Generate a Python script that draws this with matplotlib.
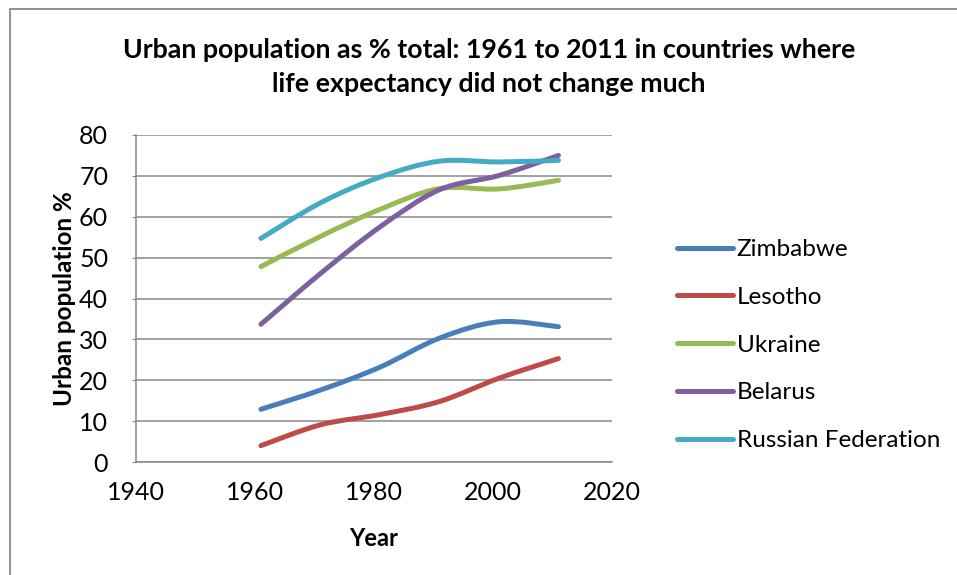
import numpy as np
import matplotlib.pyplot as plt
from matplotlib.path import Path
from matplotlib.patches import PathPatch, Rectangle
from matplotlib.lines import Line2D

plt.rcParams['font.family'] = ['Lato', 'DejaVu Sans']

years = [1961, 1971, 1981, 1991, 2001, 2011]
zimbabwe = [12.9, 17.6, 23.2, 30.3, 34.3, 33.1]
lesotho = [4.0, 9.1, 11.6, 14.8, 20.5, 25.3]
ukraine = [47.8, 55.2, 61.8, 66.9, 66.8, 68.9]
belarus = [33.7, 46.1, 57.5, 66.6, 70.1, 75.0]
russia = [54.7, 63.4, 69.7, 73.6, 73.4, 73.8]

names = ["Zimbabwe", "Lesotho", "Ukraine", "Belarus", "Russian Federation"]
series = [zimbabwe, lesotho, ukraine, belarus, russia]
colors = ["#4A7EBB", "#BE4B48", "#98B954", "#7D60A0", "#46AAC5"]


def smooth_path(xs, ys):
    # cubic bezier through each point, control points from the neighbours
    pts = np.column_stack([xs, ys]).astype(float)
    padded = np.vstack([pts[0], pts, pts[-1]])
    verts = [pts[0]]
    codes = [Path.MOVETO]
    for i in range(len(pts) - 1):
        p0, p1, p2, p3 = padded[i], padded[i + 1], padded[i + 2], padded[i + 3]
        verts += [p1 + (p2 - p0) / 6, p2 - (p3 - p1) / 6, p2]
        codes += [Path.CURVE4] * 3
    return Path(verts, codes)


fig = plt.figure(figsize=(9.57, 5.75), dpi=100)
fig.patches.append(Rectangle((10 / 957, -0.1), 1.2, 1 - 9 / 575 + 0.1,
                             transform=fig.transFigure, fill=False,
                             edgecolor="#878787", linewidth=1.3))

ax = fig.add_axes([136 / 957, 1 - 462 / 575, (612 - 136) / 957, (462 - 135) / 575])

for vals, color in zip(series, colors):
    ax.add_patch(PathPatch(smooth_path(years, vals), facecolor="none",
                           edgecolor=color, linewidth=3.6,
                           capstyle="round", joinstyle="round", zorder=3))

ax.set_xlim(1940, 2020)
ax.set_ylim(0, 80)
ax.set_xticks(range(1940, 2021, 20))
ax.set_yticks(range(0, 81, 10))
ax.yaxis.grid(True, color="#878787", linewidth=1.1)
ax.set_axisbelow(True)
for side in ["top", "right"]:
    ax.spines[side].set_visible(False)
for side in ["left", "bottom"]:
    ax.spines[side].set_color("#878787")
    ax.spines[side].set_linewidth(1.1)
ax.tick_params(axis="y", length=3, color="#878787", labelsize=18, pad=17)
ax.tick_params(axis="x", length=0, labelsize=18, pad=14)

ax.set_xlabel("Year", fontsize=17, fontweight="bold", labelpad=16)
ax.set_ylabel("Urban population %", fontsize=17.5, fontweight="bold", labelpad=2)

fig.text(489 / 957, 1 - 50 / 575, "Urban population as % total: 1961 to 2011 in countries where",
         ha="center", va="center", fontsize=19.3, fontweight="bold")
fig.text(489 / 957, 1 - 84 / 575, "life expectancy did not change much",
         ha="center", va="center", fontsize=19.3, fontweight="bold")

handles = [Line2D([], [], color=c, linewidth=3.6, solid_capstyle="round") for c in colors]
fig.legend(handles, names, loc="center left", bbox_to_anchor=(677 / 957, 1 - 345 / 575),
           frameon=False, fontsize=17.5, handlelength=2.3, handletextpad=0.15,
           labelspacing=1.1, borderaxespad=0, borderpad=0)

fig.savefig("out.png", dpi=100)
